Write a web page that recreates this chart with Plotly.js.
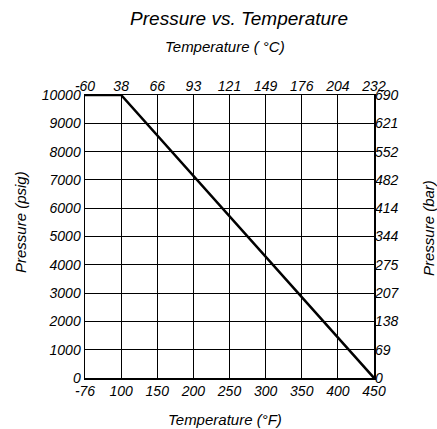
<!DOCTYPE html>
<html><head><meta charset="utf-8">
<script src="https://cdn.plot.ly/plotly-3.0.1.min.js"></script>
<style>html,body{margin:0;padding:0;background:#fff}#chart{width:437px;height:429px}#dbg{display:none}</style>
</head><body><div id="chart"></div><div id="dbg"></div>
<script>
var tempF = ["-76","100","150","200","250","300","350","400","450"];
var tempC = ["-60","38","66","93","121","149","176","204","232"];
var psiTicks = [0,1000,2000,3000,4000,5000,6000,7000,8000,9000,10000];
var barTicks = ["0","69","138","207","275","344","414","482","552","621","690"];
var curveF = ["-76","100","450"];
var curvePsi = [10000,10000,0];

var fam = "Liberation Sans, Arial, sans-serif";
function tf() { return {family: fam, size: 14, color: "#000", style: "italic"}; }
function ft() { return {family: fam, size: 15, color: "#000", style: "italic"}; }

var traces = [
  {x: curveF, y: curvePsi, type: "scatter", mode: "lines", line: {color: "#000", width: 2.5}, showlegend: false, hoverinfo: "skip", xaxis: "x", yaxis: "y"},
  {x: tempC, y: tempC.map(function(){return null;}), type: "scatter", mode: "lines", showlegend: false, hoverinfo: "skip", xaxis: "x2", yaxis: "y2"}
];

function lab(text, x, y, angle) {
  return {text: text, xref: "paper", yref: "paper", x: x, y: y, showarrow: false, xanchor: "center", yanchor: "middle", textangle: angle, font: ft()};
}

var layout = {
  width: 437, height: 429,
  margin: {l: 85, r: 63, t: 95, b: 51},
  font: {family: fam, size: 14, color: "#000", style: "italic"},
  title: {text: "Pressure vs. Temperature", font: {family: fam, size: 19, color: "#000", style: "italic"}, x: 0.533, xref: "paper", xanchor: "center", y: 0.957, yanchor: "middle"},
  xaxis: {type: "category", categoryorder: "array", categoryarray: tempF, range: [0, 8],
    showgrid: true, gridcolor: "#000", showline: true, linecolor: "#000", linewidth: 1.5, mirror: true, ticks: "", zeroline: false,
    tickfont: tf()},
  xaxis2: {type: "category", categoryorder: "array", categoryarray: tempC, range: [0, 8], overlaying: "x", side: "top",
    showgrid: false, showline: false, ticks: "", zeroline: false,
    tickfont: tf()},
  yaxis: {range: [0, 10000], tickmode: "array", tickvals: psiTicks, ticktext: psiTicks.map(String),
    showgrid: true, gridcolor: "#000", showline: true, linecolor: "#000", linewidth: 1.5, mirror: true, ticks: "", zeroline: false,
    tickfont: tf()},
  yaxis2: {range: [0, 10000], tickmode: "array", tickvals: psiTicks, ticktext: barTicks, overlaying: "y", side: "right",
    showgrid: false, showline: false, ticks: "", zeroline: false,
    tickfont: tf()},
  annotations: [
    lab("Temperature ( °C)", 0.484, 1.170, 0),
    lab("Temperature (°F)", 0.484, -0.145, 0),
    lab("Pressure (psig)", -0.225, 0.551, -90),
    lab("Pressure (bar)", 1.187, 0.530, -90)
  ]
};

Plotly.newPlot("chart", traces, layout, {staticPlot: true, displayModeBar: false}).then(function(gd){
  var t = document.querySelector('.ytick text');
  document.getElementById('dbg').textContent = t ? t.getAttribute('style') : 'none';
});
</script></body></html>
